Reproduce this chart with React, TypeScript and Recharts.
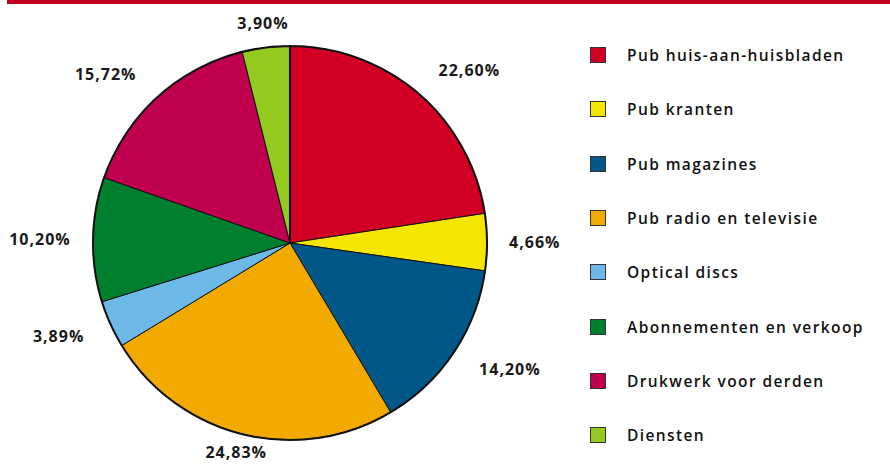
import React from "react";
import { PieChart, Pie, Cell } from "recharts";

const categories = [
  "Pub huis-aan-huisbladen",
  "Pub kranten",
  "Pub magazines",
  "Pub radio en televisie",
  "Optical discs",
  "Abonnementen en verkoop",
  "Drukwerk voor derden",
  "Diensten",
];
const shares = [22.6, 4.66, 14.2, 24.83, 3.89, 10.2, 15.72, 3.9];
const colors = [
  "#D10024",
  "#F5E600",
  "#005788",
  "#F2A900",
  "#6CB9E8",
  "#00802F",
  "#C0004E",
  "#94C91D",
];

const data = categories.map((name, i) => ({ name, value: shares[i] }));
const outline = [{ name: "all", value: 1 }];

const FONT = "'Open Sans', 'DejaVu Sans', sans-serif";
const RAD = Math.PI / 180;

const renderLabel = (props: any) => {
  const { cx, cy, midAngle, outerRadius, value } = props;
  const cos = Math.cos(-midAngle * RAD);
  const sin = Math.sin(-midAngle * RAD);
  // push diagonal labels a little further out, like the original
  const r = outerRadius + 22 + 18 * Math.abs(cos * sin);
  const x = cx + r * cos;
  const y = Math.min(cy + r * sin, 452);
  const anchor = cos > 0.3 ? "start" : cos < -0.3 ? "end" : "middle";
  return (
    <text
      x={x}
      y={y}
      textAnchor={anchor}
      dominantBaseline="central"
      fill="#1a1a1a"
      fontFamily={FONT}
      fontWeight={700}
      fontSize={16}
      letterSpacing={1}
    >
      {value.toFixed(2).replace(".", ",") + "%"}
    </text>
  );
};

export default function App() {
  return (
    <div
      style={{
        position: "absolute",
        left: 0,
        top: 0,
        width: 890,
        height: 465,
        background: "#fff",
        overflow: "hidden",
      }}
    >
      <div
        style={{
          position: "absolute",
          left: 7,
          top: 0,
          width: 883,
          height: 4,
          background: "#C0001A",
        }}
      />
      <PieChart
        width={890}
        height={465}
        margin={{ top: 0, right: 0, bottom: 0, left: 0 }}
      >
        <Pie
          data={data}
          dataKey="value"
          nameKey="name"
          cx={290}
          cy={243}
          outerRadius={197}
          startAngle={90}
          endAngle={-270}
          stroke="#111"
          strokeWidth={1}
          label={renderLabel}
          labelLine={false}
          isAnimationActive={false}
        >
          {data.map((d, i) => (
            <Cell key={d.name} fill={colors[i]} />
          ))}
        </Pie>
        <Pie
          data={outline}
          dataKey="value"
          cx={290}
          cy={243}
          outerRadius={197}
          startAngle={90}
          endAngle={-270}
          fill="none"
          stroke="#111"
          strokeWidth={2}
          isAnimationActive={false}
          legendType="none"
        />
      </PieChart>
      <div
        style={{
          position: "absolute",
          left: 590,
          top: 28,
          width: 300,
          fontFamily: FONT,
        }}
      >
        {categories.map((name, i) => (
          <div
            key={name}
            style={{ display: "flex", alignItems: "center", height: 54.3 }}
          >
            <span
              style={{
                width: 16,
                height: 16,
                background: colors[i],
                border: "1px solid #333",
                boxSizing: "border-box",
                marginRight: 21,
              }}
            />
            <span
              style={{
                fontSize: 15.5,
                fontWeight: 600,
                letterSpacing: 1.4,
                color: "#111",
              }}
            >
              {name}
            </span>
          </div>
        ))}
      </div>
    </div>
  );
}
